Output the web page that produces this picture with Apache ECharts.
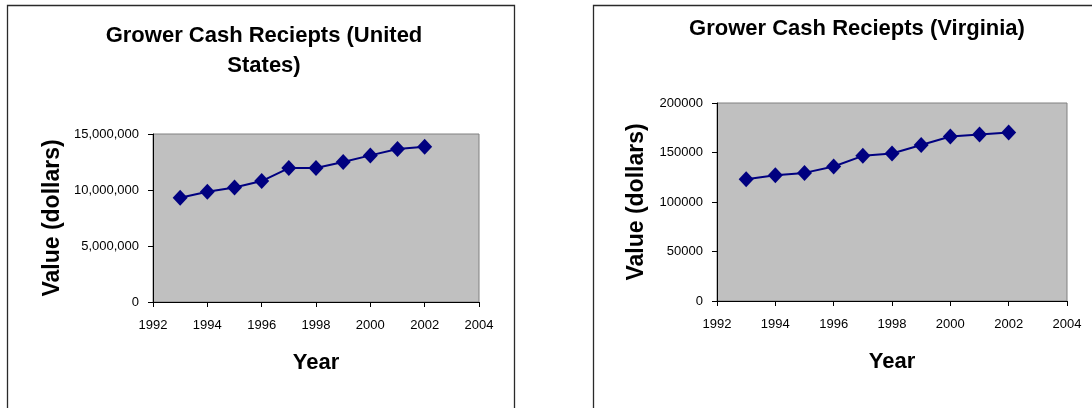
<!DOCTYPE html>
<html>
<head>
<meta charset="utf-8">
<script src="https://cdn.jsdelivr.net/npm/echarts@6/dist/echarts.min.js"></script>
<style>
  html, body { margin: 0; padding: 0; background: #ffffff; }
  #chart { width: 1092px; height: 408px; }
</style>
</head>
<body>
<div id="chart"></div>
<script>
// ---- data ----
const years = [1993, 1994, 1995, 1996, 1997, 1998, 1999, 2000, 2001, 2002];
const usValues = [9300000, 9840000, 10230000, 10800000, 11960000, 11960000, 12500000, 13090000, 13660000, 13860000];
const vaValues = [123000, 127100, 129400, 135900, 146600, 149000, 157600, 166100, 168100, 170100];
const titleUS = 'Grower Cash Reciepts (United\nStates)';
const titleVA = 'Grower Cash Reciepts (Virginia)';
const xAxisTitle = 'Year';
const yAxisTitle = 'Value (dollars)';

const FONT = '"Liberation Sans", Arial, sans-serif';
const chart = echarts.init(document.getElementById('chart'), null, { renderer: 'canvas' });

function pairs(xs, ys) { return xs.map((x, i) => [x, ys[i]]); }

function xAxisFor(gridIndex) {
  return {
    type: 'value', gridIndex: gridIndex,
    min: 1992, max: 2004, interval: 2,
    name: xAxisTitle, nameLocation: 'middle', nameGap: 50,
    nameTextStyle: { fontFamily: FONT, fontWeight: 'bold', fontSize: 22, color: '#000' },
    axisLine: { show: true, onZero: false, lineStyle: { color: '#000', width: 1 } },
    axisTick: { show: true, length: 5, lineStyle: { color: '#000' } },
    axisLabel: { fontFamily: FONT, fontSize: 13, color: '#000', margin: 17, formatter: v => String(v) },
    splitLine: { show: false }
  };
}
function yAxisFor(gridIndex, max, interval, formatter, gap) {
  return {
    type: 'value', gridIndex: gridIndex,
    min: 0, max: max, interval: interval,
    name: yAxisTitle, nameLocation: 'middle', nameGap: gap,
    nameTextStyle: { fontFamily: FONT, fontWeight: 'bold', fontSize: 23, color: '#000' },
    axisLine: { show: true, onZero: false, lineStyle: { color: '#000', width: 1 } },
    axisTick: { show: true, length: 5, lineStyle: { color: '#000' } },
    axisLabel: { fontFamily: FONT, fontSize: 13, color: '#000', margin: 14, formatter: formatter },
    splitLine: { show: false }
  };
}
function seriesFor(idx, data) {
  return {
    type: 'line', xAxisIndex: idx, yAxisIndex: idx,
    data: data,
    symbol: 'diamond', symbolSize: [15, 16],
    lineStyle: { color: '#000080', width: 2 },
    itemStyle: { color: '#000080' },
    animation: false
  };
}

const option = {
  backgroundColor: '#ffffff',
  animation: false,
  title: [
    { text: titleUS, left: 259, top: 16, textAlign: 'center',
      textStyle: { fontFamily: FONT, fontWeight: 'bold', fontSize: 22, color: '#000', lineHeight: 30 } },
    { text: titleVA, left: 852, top: 13, textAlign: 'center',
      textStyle: { fontFamily: FONT, fontWeight: 'bold', fontSize: 22, color: '#000' } }
  ],
  graphic: [
    { type: 'rect', shape: { x: 7.5, y: 5.5, width: 507, height: 440 }, style: { fill: 'none', stroke: '#2a2a2a', lineWidth: 1.3 }, silent: true },
    { type: 'rect', shape: { x: 593.5, y: 5.5, width: 540, height: 440 }, style: { fill: 'none', stroke: '#2a2a2a', lineWidth: 1.3 }, silent: true }
  ],
  grid: [
    { left: 153, top: 134, right: 613, bottom: 106, show: true, backgroundColor: '#c0c0c0', borderColor: '#808080', borderWidth: 1 },
    { left: 717, top: 103, right: 25, bottom: 107, show: true, backgroundColor: '#c0c0c0', borderColor: '#808080', borderWidth: 1 }
  ],
  xAxis: [xAxisFor(0), xAxisFor(1)],
  yAxis: [
    yAxisFor(0, 15000000, 5000000, v => v.toString().replace(/\B(?=(\d{3})+(?!\d))/g, ','), 89),
    yAxisFor(1, 200000, 50000, v => String(v), 69)
  ],
  series: [seriesFor(0, pairs(years, usValues)), seriesFor(1, pairs(years, vaValues))]
};
chart.setOption(option);
</script>
</body>
</html>
